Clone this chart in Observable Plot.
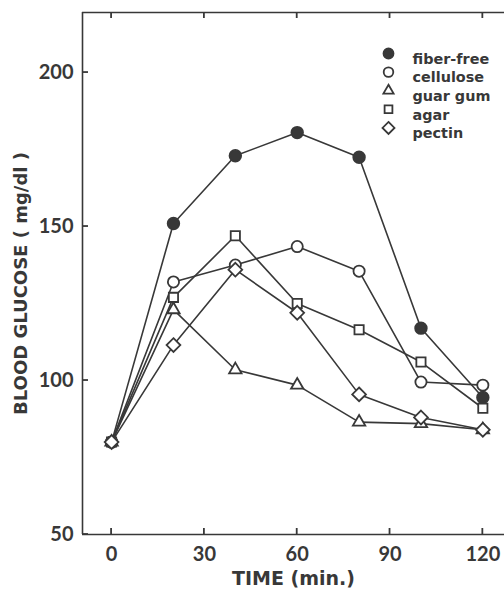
<!DOCTYPE html>
<html><head><meta charset="utf-8">
<script src="https://cdn.jsdelivr.net/npm/d3@7"></script>
<script src="https://cdn.jsdelivr.net/npm/@observablehq/plot@0.6"></script>
<style>body{margin:0;background:#fff} svg{display:block}</style>
</head><body><div id="chart"></div>
<script>
const times = [0, 20, 40, 60, 80, 100, 120];
const fiberFree = [80, 151, 173, 180.5, 172.5, 117, 94.5];
const cellulose = [80, 132, 137.5, 143.5, 135.5, 99.5, 98.5];
const guarGum  = [80, 123, 103.5, 98.5, 86.5, 86, 84];
const agar     = [80, 127, 147, 125, 116.5, 106, 91];
const pectin   = [80, 111.5, 136, 122, 95.5, 88, 84];
const seriesNames = ["fiber-free", "cellulose", "guar gum", "agar", "pectin"];
const seriesValues = [fiberFree, cellulose, guarGum, agar, pectin];
const xTicks = [0, 30, 60, 90, 120];
const yTicks = [50, 100, 150, 200];
const xTitle = "TIME (min.)";
const yTitle = "BLOOD GLUCOSE ( mg/dl )";

const ink = "#383838";
const symbols = ["circle", "circle", "triangle", "square", "diamond2"];
const fills = [ink, "white", "white", "white", "white"];
const radii = [5.8, 5.6, 4.6, 5.2, 6.2];

const data = seriesNames.flatMap((name, i) =>
  times.map((t, j) => ({series: name, idx: i, time: t, value: seriesValues[i][j]})));

const W = 504, H = 591, mL = 82, mR = 0, mT = 12, mB = 57;
const tickLen = 6;

const xDomain = [-9.4, 127];
const yDomain = [50, 219.5];
const tickFont = "Lato, 'Open Sans', sans-serif";
const textFont = "'DejaVu Sans', Verdana, sans-serif";

const marks = [
  Plot.ruleX([xDomain[0]], {stroke: ink, strokeWidth: 1.6}),
  Plot.ruleY([yDomain[0], yDomain[1]], {stroke: ink, strokeWidth: 1.6}),
  Plot.axisX(xTicks, {anchor: "bottom", tickSize: 0, tickPadding: 12, stroke: null,
    fill: ink, fontSize: 20, fontWeight: 700, fontFamily: tickFont, label: null}),
  Plot.axisY(yTicks, {anchor: "left", tickSize: 0, tickPadding: 9, stroke: null,
    fill: ink, fontSize: 20, fontWeight: 700, fontFamily: tickFont, label: null}),
  Plot.line(data, {x: "time", y: "value", z: "series", stroke: ink, strokeWidth: 1.6}),
  ...seriesNames.map((name, i) => Plot.dot(data.filter(d => d.idx === i), {
    x: "time", y: "value", symbol: () => symbols[i], r: radii[i], fill: fills[i], stroke: ink, strokeWidth: 1.8
  })),
  Plot.text([xTitle], {frameAnchor: "bottom", dy: 44, fill: ink, fontSize: 19, fontWeight: 700,
    fontFamily: textFont, lineAnchor: "middle", textAnchor: "middle"}),
  Plot.text([yTitle], {frameAnchor: "left", dx: -61, dy: 10, rotate: -90, fill: ink, fontSize: 18, fontWeight: 700,
    fontFamily: textFont, textAnchor: "middle"}),
  ...seriesNames.flatMap((name, i) => [
    Plot.dot([name], {frameAnchor: "top-left", dx: 306, dy: 41 + i * 18.6, symbol: () => symbols[i],
      r: radii[i] - 0.8, fill: fills[i], stroke: ink, strokeWidth: 1.8}),
    Plot.text([name], {frameAnchor: "top-left", dx: 330, dy: 41 + i * 18.6, textAnchor: "start",
      fill: ink, fontSize: 14.4, fontWeight: 700, fontFamily: textFont})
  ])
];

const chart = Plot.plot({
  width: W,
  height: H,
  marginLeft: mL,
  marginRight: mR,
  marginTop: mT,
  marginBottom: mB,
  style: {fontFamily: tickFont, background: "white", overflow: "visible"},
  x: {domain: xDomain},
  y: {domain: yDomain},
  marks
});

// inward ticks, positioned through Plot's own scales
const sx = chart.scale("x"), sy = chart.scale("y");
const svg = d3.select(chart);
const g = svg.append("g").attr("stroke", ink).attr("stroke-width", 1.8);
const yBottom = sy.apply(yDomain[0]), yTop = sy.apply(yDomain[1]), xLeft = sx.apply(xDomain[0]);
for (const t of xTicks) {
  const px = sx.apply(t);
  g.append("line").attr("x1", px).attr("x2", px).attr("y1", yBottom).attr("y2", yBottom - tickLen);
  g.append("line").attr("x1", px).attr("x2", px).attr("y1", yTop).attr("y2", yTop + tickLen);
}
for (const t of yTicks) {
  const py = sy.apply(t);
  g.append("line").attr("x1", xLeft).attr("x2", xLeft + tickLen).attr("y1", py).attr("y2", py);
}
document.getElementById("chart").appendChild(chart);
</script>
</body></html>
